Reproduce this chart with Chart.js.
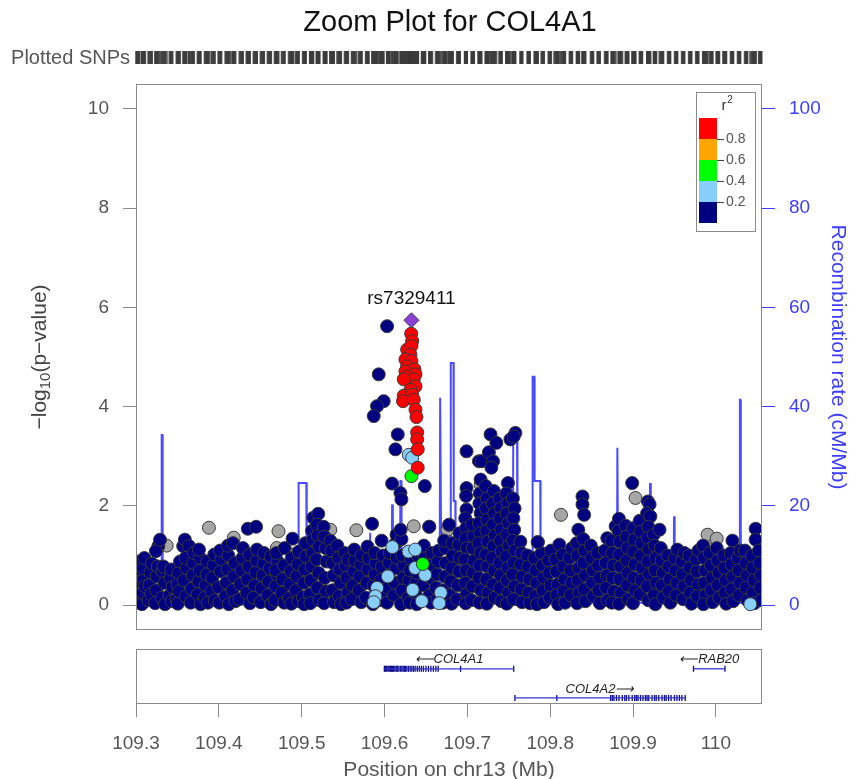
<!DOCTYPE html>
<html>
<head>
<meta charset="utf-8">
<script src="https://cdn.jsdelivr.net/npm/chart.js@4.4.0/dist/chart.umd.min.js"></script>
<style>
  html, body { margin: 0; padding: 0; background: #fff; overflow: hidden; }
  #wrap { position: relative; width: 860px; height: 779px; }
  #main { position: absolute; left: 0; top: 0; }
  #genes { position: absolute; left: 0; top: 640px; }
</style>
</head>
<body>
<div id="wrap">
  <canvas id="main" width="860" height="680"></canvas>
  <canvas id="genes" width="860" height="150"></canvas>
</div>
<script>
// ---- data: [position (Mb), -log10 p] ----
const indexSnp = [[109.6325, 5.74]];
const indexName = 'rs7329411';

const snpRed = [
  [109.6322,5.47],[109.6334,5.32],[109.6273,5.15],[109.6325,5.22],[109.6313,5.05],[109.6253,4.95],
  [109.6325,4.92],[109.6273,4.81],[109.6362,4.75],[109.6253,4.71],[109.6374,4.65],[109.6273,4.61],
  [109.6353,4.55],[109.6232,4.55],[109.6374,4.41],[109.6313,4.34],[109.6232,4.22],[109.6334,4.24],
  [109.6224,4.11],[109.6353,4.14],[109.6374,3.94],[109.6386,3.79],[109.6394,3.48],[109.6394,3.34],
  [109.6401,3.14],[109.6401,2.77]
];
const snpOrange = [];
const snpGreen = [[109.6325,2.60],[109.6462,0.83]];
const snpLightBlue = [
  [109.6293,3.03],[109.6334,2.97],[109.6095,1.17],[109.5910,0.35],[109.5890,0.18],[109.5870,0.06],
  [109.6040,0.58],[109.6290,1.08],[109.6370,1.12],[109.6340,0.31],[109.6370,0.75],[109.6490,0.61],
  [109.6450,0.08],[109.6680,0.25],[109.6660,0.04],[110.0416,0.02]
];
const snpGray = [
  [109.3020,0.80],[109.3030,0.65],[109.3070,0.85],[109.3370,1.20],[109.3640,0.28],[109.3880,1.56],
  [109.4180,1.36],[109.4140,0.61],[109.4720,1.49],[109.4700,1.15],[109.4900,1.02],[109.5346,1.52],
  [109.5660,1.51],[109.6353,1.59],[109.6760,1.52],[109.7160,2.43],[109.7240,2.33],[109.7150,1.52],
  [109.7230,1.52],[109.8050,0.85],[109.8130,1.82],[109.8870,1.25],[109.9030,2.16],[109.9900,1.42],
  [110.0010,1.34],[109.9890,1.15],[110.0090,0.89]
];
const snpNavy = [
  [109.3008,0.05],[109.3015,0.32],[109.3022,0.61],[109.3005,0.88],[109.3030,0.18],[109.3040,0.47],
  [109.3072,0.02],[109.3080,0.25],[109.3095,0.52],[109.3088,0.74],[109.3101,0.95],[109.3110,0.38],
  [109.3150,0.10],[109.3160,0.40],[109.3175,0.66],[109.3185,0.22],[109.3192,0.84],
  [109.3230,0.04],[109.3245,0.30],[109.3250,0.58],[109.3262,0.78],[109.3270,1.19],[109.3241,1.09],
  [109.3290,1.32],[109.3320,0.68],[109.3330,0.78],[109.3312,0.15],[109.3345,0.45],[109.3350,0.02],
  [109.3405,0.20],[109.3418,0.55],[109.3430,0.08],[109.3440,0.36],[109.3425,0.72],
  [109.3490,0.12],[109.3500,0.42],[109.3512,0.65],[109.3520,0.28],[109.3531,0.88],[109.3505,0.03],
  [109.3570,1.19],[109.3590,1.32],[109.3640,1.19],[109.3580,0.50],[109.3600,0.18],[109.3610,0.75],[109.3598,0.95],
  [109.3660,0.05],[109.3670,0.33],[109.3685,0.60],[109.3690,0.85],[109.3700,1.05],
  [109.3745,0.22],[109.3755,0.48],[109.3770,0.70],[109.3780,0.02],[109.3775,0.95],[109.3760,1.12],
  [109.3830,0.15],[109.3840,0.40],[109.3852,0.62],[109.3860,0.88],[109.3868,0.05],
  [109.3910,0.28],[109.3920,0.55],[109.3935,0.80],[109.3945,1.02],[109.3950,0.10],
  [109.3995,0.36],[109.4005,0.05],[109.4020,0.68],[109.4030,0.92],[109.4015,1.10],
  [109.4080,0.18],[109.4090,0.45],[109.4105,0.72],[109.4115,1.00],[109.4120,0.02],[109.4110,1.20],
  [109.4170,1.25],[109.4165,0.30],[109.4180,0.58],[109.4192,0.85],[109.4200,0.08],
  [109.4250,0.12],[109.4260,0.42],[109.4275,0.70],[109.4285,0.95],[109.4290,1.15],
  [109.4350,1.54],[109.4335,0.25],[109.4345,0.52],[109.4360,0.78],[109.4370,1.02],[109.4375,0.04],
  [109.4450,1.58],[109.4420,0.15],[109.4430,0.40],[109.4445,0.66],[109.4455,0.90],[109.4460,1.12],
  [109.4505,0.06],[109.4515,0.34],[109.4530,0.60],[109.4540,0.84],[109.4545,1.05],
  [109.4590,0.20],[109.4600,0.48],[109.4615,0.74],[109.4625,0.98],[109.4630,0.02],
  [109.4675,0.10],[109.4685,0.38],[109.4700,0.62],[109.4710,0.88],[109.4690,0.70],[109.4695,1.05],
  [109.4760,0.25],[109.4770,0.52],[109.4785,0.80],[109.4795,1.15],[109.4790,0.05],
  [109.4845,0.14],[109.4860,0.42],[109.4870,0.68],[109.4890,1.34],[109.4880,0.95],[109.4875,0.03],
  [109.4930,0.30],[109.4940,0.58],[109.4955,0.82],[109.4965,1.08],[109.4960,0.08],
  [109.5015,0.16],[109.5025,0.45],[109.5040,0.72],[109.5050,0.98],[109.5045,1.25],[109.5030,0.02],
  [109.5100,0.22],[109.5110,0.50],[109.5120,0.78],[109.5130,1.05],[109.5140,1.76],[109.5125,1.50],[109.5135,1.32],[109.5105,0.04],
  [109.5200,1.84],[109.5185,1.62],[109.5195,1.40],[109.5210,1.18],[109.5180,0.92],[109.5205,0.65],[109.5190,0.35],[109.5215,0.10],
  [109.5265,1.58],[109.5275,1.38],[109.5290,1.15],[109.5300,0.88],[109.5280,0.55],[109.5295,0.28],[109.5270,0.04],
  [109.5345,1.30],[109.5360,1.10],[109.5375,0.85],[109.5385,0.60],[109.5370,0.30],[109.5390,0.06],
  [109.5430,1.20],[109.5445,0.95],[109.5460,0.72],[109.5470,0.45],[109.5450,0.18],[109.5475,0.02],
  [109.5520,1.05],[109.5530,0.80],[109.5545,0.55],[109.5555,0.25],[109.5540,0.05],[109.5560,0.92],
  [109.5605,0.12],[109.5615,0.40],[109.5630,0.68],[109.5640,0.90],[109.5635,1.12],
  [109.5690,0.30],[109.5700,0.58],[109.5715,0.82],[109.5725,1.00],[109.5720,0.06],
  [109.5775,0.15],[109.5785,0.45],[109.5800,0.72],[109.5810,0.95],[109.5795,1.18],
  [109.5850,1.64],[109.5860,0.02],[109.5870,0.40],[109.5885,0.62],[109.5895,0.85],[109.5880,1.05],
  [109.5945,0.10],[109.5955,0.50],[109.5970,0.78],[109.5980,1.00],[109.5965,1.30],[109.5975,0.28],
  [109.6030,0.05],[109.6040,0.35],[109.6055,0.85],[109.6065,1.05],[109.6050,0.60],
  [109.6115,0.20],[109.6125,0.45],[109.6140,0.75],[109.6150,0.95],[109.6135,1.25],[109.6145,1.42],
  [109.6200,0.02],[109.6210,0.30],[109.6225,0.55],[109.6235,0.80],[109.6215,1.00],[109.6205,1.33],[109.6195,1.52],
  [109.6285,0.15],[109.6295,0.50],[109.6310,0.70],[109.6320,0.95],[109.6305,0.05],
  [109.6370,0.25],[109.6380,0.45],[109.6395,0.65],[109.6405,1.00],[109.6390,0.02],
  [109.6455,0.10],[109.6465,0.40],[109.6480,0.70],[109.6490,0.95],[109.6475,1.20],
  [109.6540,1.58],[109.6545,0.20],[109.6555,0.55],[109.6565,0.80],[109.6575,1.05],[109.6560,0.05],
  [109.6620,0.35],[109.6635,0.62],[109.6645,0.88],[109.6655,1.10],[109.6640,0.12],
  [109.6705,0.05],[109.6715,0.30],[109.6730,0.58],[109.6740,0.85],[109.6735,1.15],[109.6720,1.30],
  [109.6780,1.62],[109.6790,0.20],[109.6800,0.48],[109.6815,0.75],[109.6825,1.00],[109.6820,1.25],[109.6810,0.03],
  [109.6875,0.12],[109.6885,0.40],[109.6900,0.68],[109.6910,0.95],[109.6895,1.22],[109.6905,1.45],
  [109.6990,3.10],[109.6990,2.36],[109.6985,2.20],[109.6990,1.93],[109.6975,1.75],[109.6985,1.55],[109.6980,1.35],
  [109.6995,1.15],[109.6970,0.92],[109.6985,0.70],[109.6975,0.45],[109.6990,0.22],[109.6980,0.04],
  [109.7050,0.10],[109.7060,0.38],[109.7070,0.65],[109.7080,0.90],[109.7065,1.15],[109.7075,1.40],[109.7055,1.62],
  [109.7140,2.90],[109.7160,2.53],[109.7170,2.90],[109.7150,2.25],[109.7145,2.05],[109.7160,1.85],[109.7140,1.65],
  [109.7155,1.45],[109.7135,1.25],[109.7160,1.05],[109.7150,0.80],[109.7140,0.55],[109.7165,0.30],[109.7145,0.05],
  [109.7260,3.08],[109.7280,3.44],[109.7220,2.40],[109.7235,2.15],[109.7225,1.95],[109.7240,1.72],[109.7230,1.50],
  [109.7245,1.28],[109.7225,1.02],[109.7240,0.78],[109.7230,0.52],[109.7250,0.25],[109.7235,0.03],
  [109.7310,2.90],[109.7290,2.77],[109.7350,3.27],[109.7320,2.30],[109.7305,2.05],[109.7325,1.85],[109.7310,1.62],
  [109.7330,1.40],[109.7315,1.18],[109.7300,0.95],[109.7325,0.70],[109.7310,0.42],[109.7330,0.15],
  [109.7390,2.15],[109.7405,1.95],[109.7395,1.75],[109.7410,1.52],[109.7400,1.30],[109.7415,1.08],[109.7390,0.85],
  [109.7405,0.60],[109.7395,0.35],[109.7410,0.08],
  [109.7490,2.46],[109.7470,2.25],[109.7485,2.05],[109.7475,1.85],[109.7495,1.65],[109.7480,1.42],[109.7500,1.20],
  [109.7470,0.98],[109.7490,0.75],[109.7480,0.50],[109.7495,0.25],[109.7475,0.03],
  [109.7580,3.47],[109.7520,3.34],[109.7560,3.40],[109.7550,2.15],[109.7570,1.95],[109.7555,1.75],[109.7565,1.52],
  [109.7550,1.30],[109.7575,1.10],[109.7560,0.85],[109.7545,0.62],[109.7570,0.38],[109.7555,0.12],
  [109.7640,1.28],[109.7655,1.05],[109.7645,0.82],[109.7665,0.58],[109.7650,0.32],[109.7660,0.06],
  [109.7725,1.00],[109.7735,0.78],[109.7750,0.52],[109.7740,0.25],[109.7755,0.04],
  [109.7850,1.27],[109.7810,0.95],[109.7825,0.70],[109.7835,0.45],[109.7820,0.18],[109.7840,0.02],
  [109.7895,1.05],[109.7905,0.80],[109.7920,0.55],[109.7910,0.30],[109.7925,0.06],
  [109.7980,0.90],[109.7990,0.65],[109.8005,0.40],[109.7995,0.15],[109.8010,1.10],
  [109.8110,1.22],[109.8065,0.92],[109.8075,0.68],[109.8090,0.42],[109.8080,0.20],[109.8095,0.02],
  [109.8150,1.02],[109.8160,0.78],[109.8175,0.52],[109.8165,0.28],[109.8180,0.05],
  [109.8235,0.95],[109.8245,0.70],[109.8260,0.45],[109.8250,0.20],[109.8265,1.15],
  [109.8340,1.52],[109.8320,1.25],[109.8330,1.00],[109.8345,0.75],[109.8335,0.50],[109.8350,0.25],[109.8325,0.04],
  [109.8390,2.19],[109.8390,2.03],[109.8410,1.82],[109.8400,1.33],[109.8415,1.10],[109.8405,0.85],[109.8420,0.60],
  [109.8410,0.32],[109.8425,0.08],
  [109.8490,1.20],[109.8500,0.95],[109.8515,0.70],[109.8505,0.45],[109.8520,0.18],
  [109.8570,1.05],[109.8580,0.80],[109.8595,0.55],[109.8585,0.30],[109.8600,0.04],
  [109.8690,1.35],[109.8660,1.10],[109.8670,0.85],[109.8685,0.60],[109.8675,0.35],[109.8690,0.10],
  [109.8790,1.59],[109.8740,1.30],[109.8750,1.05],[109.8765,0.80],[109.8755,0.55],[109.8770,0.28],[109.8745,0.05],
  [109.8830,1.74],[109.8825,1.50],[109.8840,1.28],[109.8835,1.02],[109.8850,0.78],[109.8840,0.52],[109.8855,0.25],[109.8830,0.03],
  [109.8910,1.60],[109.8920,1.38],[109.8935,1.15],[109.8925,0.90],[109.8940,0.65],[109.8930,0.40],[109.8945,0.12],
  [109.8990,2.46],[109.9000,1.55],[109.9015,1.32],[109.9005,1.08],[109.9020,0.82],[109.9010,0.55],[109.9025,0.30],[109.9000,0.04],
  [109.9080,1.70],[109.9090,1.48],[109.9105,1.25],[109.9095,1.00],[109.9110,0.75],[109.9100,0.50],[109.9085,0.22],
  [109.9180,2.09],[109.9200,2.03],[109.9170,1.85],[109.9210,1.79],[109.9185,1.58],[109.9175,1.35],[109.9190,1.12],
  [109.9180,0.88],[109.9195,0.62],[109.9170,0.38],[109.9185,0.10],
  [109.9250,1.42],[109.9260,1.20],[109.9275,0.95],[109.9265,0.70],[109.9280,0.45],[109.9255,0.20],[109.9270,0.02],
  [109.9320,1.52],[109.9335,1.15],[109.9345,0.90],[109.9360,0.65],[109.9350,0.40],[109.9365,0.15],
  [109.9420,1.00],[109.9430,0.78],[109.9445,0.52],[109.9435,0.28],[109.9450,0.05],
  [109.9505,0.95],[109.9515,0.70],[109.9530,0.45],[109.9520,0.20],[109.9535,1.12],
  [109.9590,0.88],[109.9600,0.62],[109.9615,0.38],[109.9605,0.12],[109.9620,1.05],
  [109.9675,1.00],[109.9685,0.75],[109.9700,0.50],[109.9690,0.25],[109.9705,0.03],
  [109.9760,0.92],[109.9770,0.68],[109.9785,0.42],[109.9775,0.18],[109.9790,1.10],
  [109.9845,1.20],[109.9855,0.95],[109.9870,0.70],[109.9860,0.45],[109.9875,0.20],[109.9850,0.02],
  [109.9925,1.05],[109.9940,0.80],[109.9955,0.55],[109.9945,0.30],[109.9960,0.06],
  [110.0010,1.15],[110.0020,0.90],[110.0035,0.65],[110.0025,0.40],[110.0040,0.15],
  [110.0095,1.00],[110.0105,0.75],[110.0120,0.50],[110.0110,0.25],[110.0125,0.03],
  [110.0200,1.30],[110.0180,1.05],[110.0190,0.82],[110.0205,0.58],[110.0195,0.32],[110.0210,0.08],
  [110.0265,0.95],[110.0275,0.70],[110.0290,0.45],[110.0280,0.20],[110.0295,1.10],
  [110.0350,1.10],[110.0360,0.85],[110.0375,0.60],[110.0365,0.35],[110.0380,0.10],
  [110.0480,1.54],[110.0480,1.32],[110.0435,1.00],[110.0445,0.75],[110.0460,0.50],[110.0450,0.25],[110.0465,0.04],
  [110.0520,1.10],[110.0530,0.85],[110.0545,0.60],[110.0535,0.35],[110.0550,0.10],
  // scattered higher points near the peak
  [109.6031,5.62],[109.5930,4.65],[109.5990,4.11],[109.5910,4.01],[109.5870,3.81],[109.6160,3.44],
  [109.6132,3.14],[109.6092,2.45],[109.6192,2.26],[109.6204,2.13],[109.6486,2.40],[109.6540,1.58],
  [109.6780,1.62],[109.7850,1.27]
];

// recombination rate (cM/Mb) along the region
const recombPos = [
  109.3000,109.3306,109.3310,109.3318,109.3322,109.4590,109.4595,109.4602,109.4607,109.4958,109.4963,109.5056,109.5061,
  109.5822,109.5827,109.5832,109.5837,109.6085,109.6092,109.6100,109.6110,109.6186,109.6192,109.6200,109.6206,
  109.6665,109.6672,109.6680,109.6688,109.6794,109.6800,109.6833,109.6836,109.6855,109.6858,
  109.7549,109.7554,109.7600,109.7605,109.7783,109.7788,109.7808,109.7812,109.7880,109.7884,
  109.8806,109.8811,109.8818,109.8823,109.9200,109.9205,109.9212,109.9217,109.9490,109.9495,109.9500,109.9505,
  110.0285,110.0290,110.0296,110.0301,110.0557
];
const recombRate = [
  0.8,0.8,34.3,34.3,0.8,0.5,11.2,11.2,0.5,0.5,24.6,24.6,0.5,
  0.5,14.6,14.6,0.5,0.5,20.3,19.0,0.5,0.5,25.0,25.0,0.5,
  0.5,41.8,41.8,0.5,0.5,48.8,48.8,21.0,21.0,0.5,
  0.5,34.1,34.1,0.5,0.5,46.0,46.0,25.0,25.0,0.5,
  0.5,31.7,31.7,0.5,0.5,24.6,24.6,0.5,0.5,17.9,17.9,0.5,
  0.5,41.4,41.4,0.5,0.5
];

// genes
const geneNames = ['COL4A1', 'COL4A2', 'RAB20'];
const geneStart = [109.5998, 109.7574, 109.9730];
const geneEnd = [109.7560, 109.9630, 110.0110];
const geneStrand = ['-', '+', '-'];
const geneRow = [0.64, 0.11, 0.64];
const geneExons = [
  [109.5998,109.6010,109.6022,109.6040,109.6052,109.6065,109.6075,109.6083,109.6098,109.6110,109.6125,109.6140,
   109.6150,109.6160,109.6175,109.6195,109.6210,109.6225,109.6240,109.6255,109.6270,109.6290,109.6310,109.6330,
   109.6350,109.6370,109.6395,109.6420,109.6445,109.6470,109.6500,109.6530,109.6560,109.6590,109.6620,109.6648,
   109.6918,109.7560],
  [109.7574,109.8080,109.8730,109.8750,109.8770,109.8800,109.8830,109.8870,109.8900,109.8920,109.8950,109.8990,
   109.9020,109.9040,109.9060,109.9090,109.9120,109.9150,109.9170,109.9190,109.9230,109.9260,109.9280,109.9310,
   109.9350,109.9380,109.9400,109.9430,109.9460,109.9500,109.9530,109.9560,109.9590,109.9630],
  [109.9730,110.0110]
];

const xTicks = [109.3, 109.4, 109.5, 109.6, 109.7, 109.8, 109.9, 110.0];
const pTicks = [0, 2, 4, 6, 8, 10];
const rTicks = [0, 20, 40, 60, 80, 100];
const ldBreaks = ['0.8', '0.6', '0.4', '0.2'];
const ldColors = ['#FF0000', '#FFA500', '#00FF00', '#87CEFA', '#000080'];

const FONT = 'Liberation Sans, Arial, Helvetica, sans-serif';
const BLUE = '#3c3cff';
const X_MIN = 109.3, X_MAX = 110.0557;

Chart.defaults.font.family = FONT;

const toXY = arr => arr.map(p => ({x: p[0], y: p[1]}));

function snpSet(data, color, order) {
  return {
    type: 'scatter', data: toXY(data), order: order,
    backgroundColor: color, borderColor: '#3a3a3a', borderWidth: 1,
    pointRadius: 6.5, pointHoverRadius: 6.5, yAxisID: 'y'
  };
}

const allSnps = [].concat(snpNavy, snpGray, snpLightBlue, snpGreen, snpOrange, snpRed, indexSnp);

const mainDecor = {
  id: 'mainDecor',
  afterDraw(chart) {
    const {ctx, chartArea: a, scales} = chart;
    const xs = scales.x;
    ctx.save();
    // frame
    ctx.strokeStyle = '#8a8a8a';
    ctx.lineWidth = 1;
    ctx.strokeRect(a.left + 0.5, a.top + 0.5, a.right - a.left - 1, a.bottom - a.top - 1);

    // title
    ctx.fillStyle = '#111';
    ctx.font = '29px ' + FONT;
    ctx.textAlign = 'center';
    ctx.textBaseline = 'middle';
    ctx.fillText('Zoom Plot for COL4A1', 450, 23);

    // plotted SNPs strip
    ctx.fillStyle = '#555';
    ctx.font = '20px ' + FONT;
    ctx.textAlign = 'right';
    ctx.fillText('Plotted SNPs', 130, 58);
    ctx.fillStyle = 'rgba(60,60,60,0.85)';
    allSnps.forEach(p => {
      const px = xs.getPixelForValue(p[0]);
      ctx.fillRect(px - 1.1, 51, 2.2, 13);
    });

    // index SNP label
    const ix = xs.getPixelForValue(indexSnp[0][0]);
    const iy = scales.y.getPixelForValue(indexSnp[0][1]);
    ctx.fillStyle = '#111';
    ctx.font = '19px ' + FONT;
    ctx.textAlign = 'center';
    ctx.fillText(indexName, ix, iy - 22);

    // legend
    ctx.fillStyle = '#fff';
    ctx.fillRect(696, 92, 60, 140);
    ctx.strokeStyle = '#8a8a8a';
    ctx.strokeRect(696.5, 92.5, 59, 139);
    ctx.fillStyle = '#333';
    ctx.font = '15px ' + FONT;
    ctx.textAlign = 'center';
    ctx.fillText('r', 724, 106);
    ctx.font = '10px ' + FONT;
    ctx.fillText('2', 730, 100);
    ldColors.forEach((c, i) => {
      ctx.fillStyle = c;
      ctx.fillRect(699, 118 + i * 21, 18, 21);
    });
    ctx.strokeStyle = '#444';
    ctx.fillStyle = '#555';
    ctx.font = '14px ' + FONT;
    ctx.textAlign = 'left';
    ldBreaks.forEach((t, i) => {
      const yy = 118 + (i + 1) * 21;
      ctx.beginPath();
      ctx.moveTo(717, yy + 0.5);
      ctx.lineTo(724, yy + 0.5);
      ctx.stroke();
      ctx.fillText(t, 726, yy);
    });

    // left axis title with subscript
    const cy = (a.top + a.bottom) / 2;
    ctx.translate(40, cy);
    ctx.rotate(-Math.PI / 2);
    ctx.fillStyle = '#444';
    const big = '21px ' + FONT, small = '15px ' + FONT;
    const p1 = '\u2212log', p2 = '10', p3 = '(p\u2212value)';
    ctx.font = big; const w1 = ctx.measureText(p1).width, w3 = ctx.measureText(p3).width;
    ctx.font = small; const w2 = ctx.measureText(p2).width;
    let sx = -(w1 + w2 + w3) / 2;
    ctx.textAlign = 'left';
    ctx.font = big; ctx.fillText(p1, sx, 0); sx += w1;
    ctx.font = small; ctx.fillText(p2, sx, 6); sx += w2;
    ctx.font = big; ctx.fillText(p3, sx, 0);
    ctx.restore();

    // right axis title
    ctx.save();
    ctx.translate(838, cy);
    ctx.rotate(Math.PI / 2);
    ctx.fillStyle = BLUE;
    ctx.font = '21px ' + FONT;
    ctx.textAlign = 'center';
    ctx.textBaseline = 'middle';
    ctx.fillText('Recombination rate (cM/Mb)', 0, 0);
    ctx.restore();
  }
};

new Chart(document.getElementById('main'), {
  type: 'scatter',
  data: {
    datasets: [
      {
        type: 'scatter', showLine: true, order: 20, yAxisID: 'y2',
        data: recombPos.map((p, i) => ({x: p, y: recombRate[i]})),
        borderColor: 'rgba(55,55,255,0.9)', borderWidth: 2, pointRadius: 0, pointHoverRadius: 0
      },
      snpSet(snpGray, '#A6A6A6', 9),
      snpSet(snpNavy, '#000080', 8),
      snpSet(snpLightBlue, '#87CEFA', 7),
      snpSet(snpGreen, '#00FF00', 6),
      snpSet(snpOrange, '#FFA500', 5),
      snpSet(snpRed, '#FF0000', 4),
      {
        type: 'scatter', data: toXY(indexSnp), order: 1, yAxisID: 'y',
        pointStyle: 'rectRot', pointRadius: 7.5, backgroundColor: '#8B3FD9',
        borderColor: '#3a3a3a', borderWidth: 1
      }
    ]
  },
  options: {
    responsive: false,
    animation: false,
    devicePixelRatio: 1,
    layout: {padding: {top: 84, bottom: 50, left: 0, right: 0}},
    plugins: {legend: {display: false}, tooltip: {enabled: false}, title: {display: false}},
    scales: {
      x: {type: 'linear', min: X_MIN, max: X_MAX, display: false},
      y: {
        type: 'linear', position: 'left', min: -0.5, max: 10.5,
        afterBuildTicks: s => { s.ticks = pTicks.map(v => ({value: v})); },
        afterFit: s => { s.width = 136; },
        grid: {drawOnChartArea: false, drawTicks: true, tickLength: 13, color: '#8a8a8a'},
        border: {display: false},
        ticks: {color: '#555', font: {size: 19}, padding: 14, callback: v => String(v)}
      },
      y2: {
        type: 'linear', position: 'right', min: -5, max: 105,
        afterBuildTicks: s => { s.ticks = rTicks.map(v => ({value: v})); },
        afterFit: s => { s.width = 98; },
        grid: {drawOnChartArea: false, drawTicks: true, tickLength: 13, color: BLUE},
        border: {display: false},
        ticks: {color: BLUE, font: {size: 19}, padding: 14, callback: v => String(v)}
      }
    }
  },
  plugins: [mainDecor]
});

// ---- gene track ----
const geneDecor = {
  id: 'geneDecor',
  afterDraw(chart) {
    const {ctx, chartArea: a, scales} = chart;
    ctx.save();
    ctx.strokeStyle = '#8a8a8a';
    ctx.lineWidth = 1;
    ctx.strokeRect(a.left + 0.5, a.top + 0.5, a.right - a.left - 1, a.bottom - a.top - 1);
    ctx.fillStyle = '#222';
    ctx.font = 'italic 13px ' + FONT;
    ctx.textAlign = 'center';
    ctx.textBaseline = 'middle';
    geneNames.forEach((g, i) => {
      const cx = (scales.x.getPixelForValue(geneStart[i]) + scales.x.getPixelForValue(geneEnd[i])) / 2;
      const yy = scales.y.getPixelForValue(geneRow[i]) - 9;
      const label = geneStrand[i] === '-' ? '\u27F5' + g : g + '\u27F6';
      ctx.fillText(label, cx, yy);
    });
    ctx.restore();
  }
};

const geneDatasets = [];
geneNames.forEach((g, i) => {
  geneDatasets.push({
    type: 'scatter', showLine: true,
    data: [{x: geneStart[i], y: geneRow[i]}, {x: geneEnd[i], y: geneRow[i]}],
    borderColor: '#3535d0', borderWidth: 1.3, pointRadius: 0
  });
  geneDatasets.push({
    type: 'scatter',
    data: geneExons[i].map(e => ({x: e, y: geneRow[i]})),
    pointStyle: 'line', rotation: 90, pointRadius: 3, borderColor: '#0a0a8a', borderWidth: 1.3
  });
});

new Chart(document.getElementById('genes'), {
  type: 'scatter',
  data: {datasets: geneDatasets},
  options: {
    responsive: false,
    animation: false,
    devicePixelRatio: 1,
    layout: {padding: {top: 9, left: 136, right: 98, bottom: 0}},
    plugins: {legend: {display: false}, tooltip: {enabled: false}},
    scales: {
      x: {
        type: 'linear', position: 'bottom', min: X_MIN, max: X_MAX,
        afterBuildTicks: s => { s.ticks = xTicks.map(v => ({value: v})); },
        afterFit: s => { s.height = 86; },
        grid: {drawOnChartArea: false, drawTicks: true, tickLength: 13, color: '#8a8a8a'},
        border: {display: false},
        ticks: {color: '#555', font: {size: 19}, padding: 15, maxRotation: 0,
                callback: v => String(Math.round(v * 10) / 10)},
        title: {display: true, text: 'Position on chr13 (Mb)', color: '#555',
                font: {size: 21}, padding: {top: 0, bottom: 7}}
      },
      y: {type: 'linear', min: 0, max: 1, display: false}
    }
  },
  plugins: [geneDecor]
});
</script>
</body>
</html>
